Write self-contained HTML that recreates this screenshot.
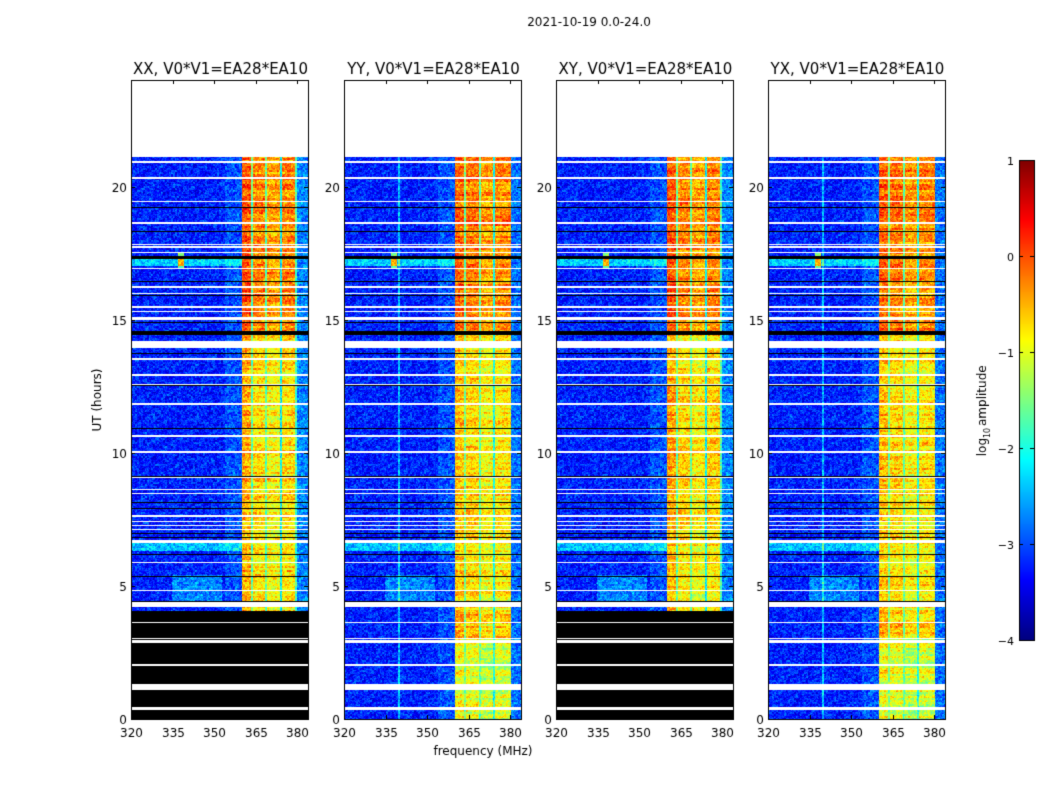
<!DOCTYPE html>
<html><head><meta charset="utf-8">
<style>
body{margin:0;background:#fff;width:1050px;height:800px;overflow:hidden;font-family:"DejaVu Sans","Liberation Sans",sans-serif;}
#wrap{position:relative;width:1050px;height:800px;}
canvas{position:absolute;left:0;top:0;}
</style></head>
<body><div id="wrap">
<canvas id="c" width="1050" height="800"></canvas>
</div>
<script>
// ---- data ----
const panelTitles = ["XX, V0*V1=EA28*EA10","YY, V0*V1=EA28*EA10","XY, V0*V1=EA28*EA10","YX, V0*V1=EA28*EA10"];
const xTicks = [320,335,350,365,380];
const yTicks = [0,5,10,15,20];
const cbTicks = [1,0,-1,-2,-3,-4];
// spectral sub-bands: [fStart, fEnd, log amplitude]
const bandsXX = [[320,354,-3.1],[354,360,-2.85],[360,363.5,0.0],[363.5,364.2,-1.5],[364.2,368.5,-0.25],[368.5,369.2,-1.5],[369.2,373.8,-0.4],[373.8,374.4,-2.0],[374.4,379.3,-0.25],[379.3,380,-1.6],[380,385,-2.6]];
const bandsYY = [[320,339.5,-3.1],[339.5,340.2,-2.3],[340.2,354,-3.1],[354,360,-2.85],[360,363.5,-0.1],[363.5,364.2,-1.4],[364.2,368.8,-0.2],[368.8,369.5,-1.5],[369.5,374,-0.4],[374,374.6,-1.9],[374.6,380.3,-0.3],[380.3,385,-2.7]];
// time-dependent adjustments of the bright band: [tStart, tEnd, offset]
const bandTimeAdj = [[0,3,-0.6],[3,4.1,-0.2],[4.1,6.6,-0.35],[6.6,14.5,-0.3],[14.5,21.1,0.15]];
// background features: [tStart, tEnd, fStart, fEnd, offset]
const bgFeatures = [[6.3,6.6,320,360,0.8],[4.3,5.4,335,353,0.5],[17.0,17.4,320,360,0.9],[16.9,17.5,337,339,1.8]];
const dataEnd = 21.1;
const flaggedCross = [[0,4.05]];
const whiteLines = [[0.35,0.45],[1.1,1.32],[2.0,2.07],[2.85,2.95],[3.0,3.06],[3.6,3.66],[4.22,4.38],[4.8,4.86],[5.85,5.9],[6.6,6.72],[7.1,7.14],[7.25,7.3],[7.4,7.45],[7.6,7.65],[8.45,8.5],[8.6,8.65],[9.05,9.1],[10.0,10.05],[10.6,10.65],[11.8,11.85],[12.55,12.6],[12.9,12.95],[13.5,13.55],[13.95,14.2],[15.0,15.1],[15.3,15.34],[15.45,15.5],[15.95,16.0],[16.2,16.25],[16.9,16.95],[17.5,17.55],[17.7,17.75],[17.8,17.85],[18.6,18.65],[19.4,19.45],[20.3,20.35],[20.9,20.95]];
const blackLines = [[4.38,4.43],[5.33,5.37],[6.17,6.21],[6.78,6.84],[6.95,6.99],[7.88,7.91],[8.1,8.14],[9.1,9.13],[10.9,10.94],[12.5,12.54],[13.7,13.74],[14.42,14.58],[14.88,14.92],[15.87,15.91],[16.4,16.44],[17.28,17.38],[18.3,18.34],[19.2,19.24]];

// ---- layout ----
const panelsX = [131,344,556,768];
const PW = 177, PT = 80, PB = 719;
const fMin = 320, fMax = 320 + PW/(166/60);
const tMin = 0, tMax = 24;
function xScale(p,f){return panelsX[p] + (f - fMin)/(fMax - fMin)*PW;}
function yScale(t){return PB - (t - tMin)/(tMax - tMin)*(PB-PT);}
const cbX=1019, cbW=15, cbTop=160, cbBot=640;
function cbScale(v){return cbBot - (v+4)/5*(cbBot-cbTop);}

function jet(v){
  v=Math.max(0,Math.min(1,v));
  const r=Math.max(0,Math.min(1,1.5-Math.abs(4*v-3)));
  const g=Math.max(0,Math.min(1,1.5-Math.abs(4*v-2)));
  const b=Math.max(0,Math.min(1,1.5-Math.abs(4*v-1)));
  return [r*255|0,g*255|0,b*255|0];
}
function inR(arr,t){for(const r of arr){if(t>=r[0]&&t<r[1])return true;}return false;}
function dither(i,j){let h=(i*374761393+j*668265263)>>>0;h=((h^(h>>>13))*1274126177)>>>0;return ((h&1023)/1023-0.5);}

const cv=document.getElementById('c');const ctx=cv.getContext('2d');
ctx.fillStyle='#fff';ctx.fillRect(0,0,1050,800);

for(let p=0;p<4;p++){
  const bands = (p%2===0)?bandsXX:bandsYY;
  const cross = (p===0||p===2);
  const img=ctx.createImageData(PW,PB-PT);
  for(let row=0;row<PB-PT;row++){
    const t = tMax - (row+0.5)/(PB-PT)*(tMax-tMin);
    for(let col=0;col<PW;col++){
      const f = fMin + (col+0.5)/PW*(fMax-fMin);
      let rgb;
      if(t>=dataEnd) rgb=[255,255,255];
      else if(inR(whiteLines,t)) rgb=[255,255,255];
      else if(inR(blackLines,t) || (cross && inR(flaggedCross,t))) rgb=[0,0,0];
      else{
        let v=-3.1;
        for(const b of bands){if(f>=b[0]&&f<b[1]){v=b[2];break;}}
        if(v>-1.2){for(const a of bandTimeAdj){if(t>=a[0]&&t<a[1]){v+=a[2];break;}}
          v += dither(row>>1,p+11)*0.5;}
        else{for(const g of bgFeatures){if(t>=g[0]&&t<g[1]&&f>=g[2]&&f<g[3])v+=g[4];}}
        v += dither(col>>1,row>>1)*0.6 + dither(col+p*3,row)*0.5;
        rgb=jet((v+4)/5);
      }
      const k=(row*PW+col)*4;
      img.data[k]=rgb[0];img.data[k+1]=rgb[1];img.data[k+2]=rgb[2];img.data[k+3]=255;
    }
  }
  ctx.putImageData(img,panelsX[p],PT);
  ctx.strokeStyle='#000';ctx.lineWidth=1;
  ctx.strokeRect(panelsX[p]+0.5,PT+0.5,PW,PB-PT);
  ctx.fillStyle='#000';
  ctx.font='15px "DejaVu Sans","Liberation Sans", sans-serif';ctx.textAlign='center';ctx.textBaseline='alphabetic';
  ctx.fillText(panelTitles[p],panelsX[p]+PW/2+1,74);
  ctx.font='12px "DejaVu Sans","Liberation Sans", sans-serif';
  for(const f of xTicks){
    const x=Math.round(xScale(p,f))+0.5;
    ctx.beginPath();ctx.moveTo(x,PB);ctx.lineTo(x,PB-4);ctx.moveTo(x,PT);ctx.lineTo(x,PT+4);ctx.stroke();
    ctx.textAlign='center';ctx.fillText(String(f),x,737);
  }
  for(const tv of yTicks){
    const y=Math.round(yScale(tv))+0.5;
    ctx.beginPath();ctx.moveTo(panelsX[p],y);ctx.lineTo(panelsX[p]+4,y);ctx.moveTo(panelsX[p]+PW,y);ctx.lineTo(panelsX[p]+PW-4,y);ctx.stroke();
    ctx.textAlign='right';ctx.fillText(String(tv),panelsX[p]-4,y+4);
  }
}
ctx.fillStyle='#000';ctx.textAlign='center';
ctx.font='12px "DejaVu Sans","Liberation Sans", sans-serif';
ctx.fillText('2021-10-19 0.0-24.0',589,26);
ctx.fillText('frequency (MHz)',483,755);
ctx.save();ctx.translate(101,400);ctx.rotate(-Math.PI/2);ctx.fillText('UT (hours)',0,0);ctx.restore();
ctx.save();ctx.translate(986,400);ctx.rotate(-Math.PI/2);
ctx.textAlign='right';ctx.fillText('log',-38,0);ctx.font='8px "DejaVu Sans",sans-serif';ctx.textAlign='left';ctx.fillText('10',-38,4);
ctx.font='12px "DejaVu Sans","Liberation Sans", sans-serif';ctx.fillText('amplitude',-26,0);ctx.restore();
for(let y=cbTop;y<cbBot;y++){const v=1-(y-cbTop+0.5)/(cbBot-cbTop);const c=jet(v);ctx.fillStyle=`rgb(${c[0]},${c[1]},${c[2]})`;ctx.fillRect(cbX,y,cbW,1);}
ctx.strokeStyle='#000';ctx.strokeRect(cbX+0.5,cbTop+0.5,cbW,cbBot-cbTop);
ctx.font='11px "DejaVu Sans","Liberation Sans", sans-serif';ctx.fillStyle='#000';ctx.textAlign='right';
for(const v of cbTicks){const y=Math.round(cbScale(v))+0.5;
  ctx.beginPath();ctx.moveTo(cbX,y);ctx.lineTo(cbX+4,y);ctx.moveTo(cbX+cbW,y);ctx.lineTo(cbX+cbW-4,y);ctx.stroke();
  ctx.fillText(v<0?'\u2212'+(-v):String(v),cbX-5,y+4);}
</script>
</body></html>
